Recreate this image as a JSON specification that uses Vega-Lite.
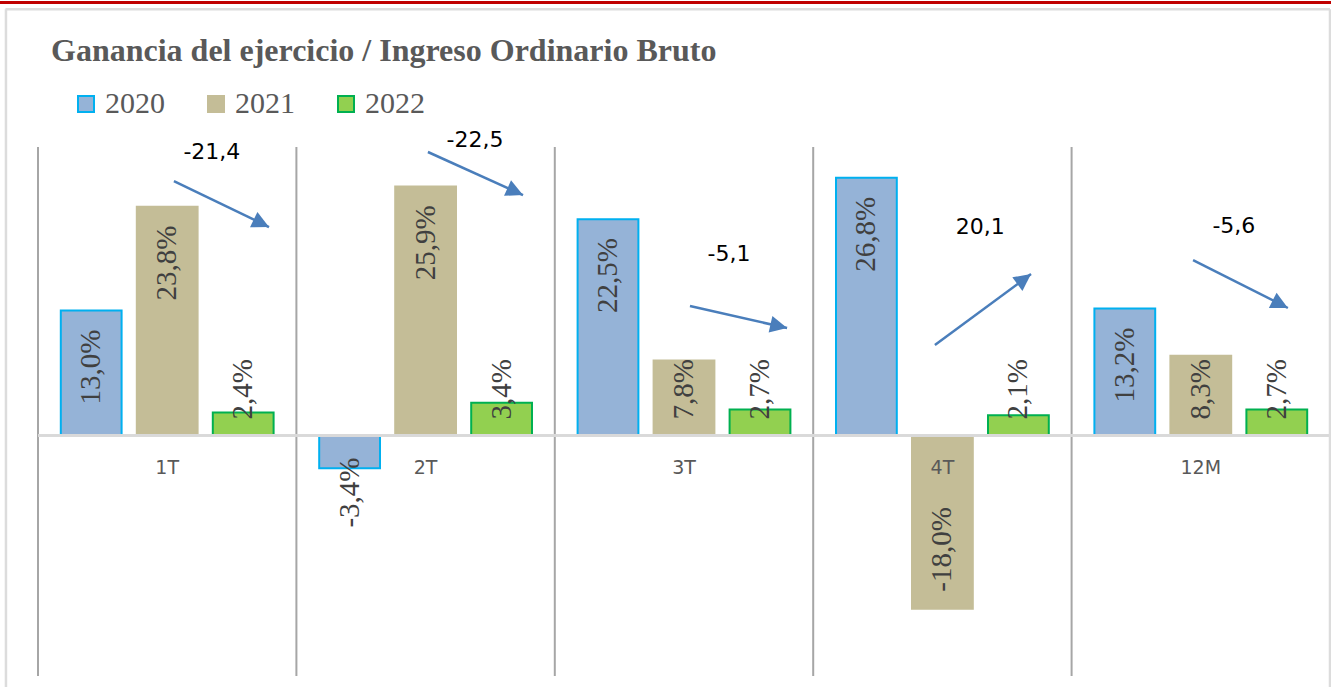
{
  "$schema": "https://vega.github.io/schema/vega-lite/v6.json",
  "width": 1292,
  "height": 529,
  "autosize": {"type": "none"},
  "padding": {"left": 38, "top": 147, "right": 1, "bottom": 11},
  "background": "white",
  "title": {
    "text": "Ganancia del ejercicio / Ingreso Ordinario Bruto",
    "anchor": "start",
    "frame": "group",
    "font": "Liberation Serif",
    "fontSize": 32,
    "fontWeight": "bold",
    "color": "#595959",
    "baseline": "alphabetic",
    "dx": 13,
    "offset": -92
  },
  "config": {"view": {"stroke": null}},
  "datasets": {
    "bars": [
      {"q": "1T", "year": "2020", "v": 13.0, "lab": "13,0%"},
      {"q": "1T", "year": "2021", "v": 23.8, "lab": "23,8%"},
      {"q": "1T", "year": "2022", "v": 2.4, "lab": "2,4%"},
      {"q": "2T", "year": "2020", "v": -3.4, "lab": "-3,4%"},
      {"q": "2T", "year": "2021", "v": 25.9, "lab": "25,9%"},
      {"q": "2T", "year": "2022", "v": 3.4, "lab": "3,4%"},
      {"q": "3T", "year": "2020", "v": 22.5, "lab": "22,5%"},
      {"q": "3T", "year": "2021", "v": 7.8, "lab": "7,8%"},
      {"q": "3T", "year": "2022", "v": 2.7, "lab": "2,7%"},
      {"q": "4T", "year": "2020", "v": 26.8, "lab": "26,8%"},
      {"q": "4T", "year": "2021", "v": -18.0, "lab": "-18,0%"},
      {"q": "4T", "year": "2022", "v": 2.1, "lab": "2,1%"},
      {"q": "12M", "year": "2020", "v": 13.2, "lab": "13,2%"},
      {"q": "12M", "year": "2021", "v": 8.3, "lab": "8,3%"},
      {"q": "12M", "year": "2022", "v": 2.7, "lab": "2,7%"}
    ],
    "chg": [
      {"chg": "-21,4", "x1": 0.526, "y1": 26.46, "x2": 0.894, "y2": 21.68, "lx": 0.673, "ly": 29.48},
      {"chg": "-22,5", "x1": 1.509, "y1": 29.48, "x2": 1.877, "y2": 25.0, "lx": 1.691, "ly": 30.72},
      {"chg": "-5,1", "x1": 2.523, "y1": 13.46, "x2": 2.899, "y2": 11.18, "lx": 2.674, "ly": 18.87},
      {"chg": "20,1", "x1": 3.471, "y1": 9.41, "x2": 3.843, "y2": 16.79, "lx": 3.646, "ly": 21.68},
      {"chg": "-5,6", "x1": 4.470, "y1": 18.25, "x2": 4.837, "y2": 13.26, "lx": 4.628, "ly": 21.78}
    ]
  },
  "layer": [
    {
      "data": {"name": "bars"},
      "encoding": {
        "x": {"field": "q", "type": "nominal", "sort": ["1T", "2T", "3T", "4T", "12M"], "scale": {"domain": ["1T", "2T", "3T", "4T", "12M"], "paddingInner": 0, "paddingOuter": 0}, "axis": null}
      },
      "layer": [
        {
          "transform": [{"filter": "datum.year == '2020'"}],
          "mark": {"type": "rule", "color": "#A6A6A6", "strokeWidth": 2},
          "encoding": {
            "x": {"field": "q", "type": "nominal", "bandPosition": 0, "sort": ["1T", "2T", "3T", "4T", "12M"], "scale": {"domain": ["1T", "2T", "3T", "4T", "12M"], "paddingInner": 0, "paddingOuter": 0}, "axis": null}
          }
        },
        {
          "mark": {"type": "bar", "strokeWidth": 2},
          "encoding": {
            "xOffset": {"field": "year", "type": "nominal", "scale": {"domain": ["2020", "2021", "2022"], "paddingInner": 0.2, "paddingOuter": 0.3}},
            "y": {"field": "v", "type": "quantitative", "scale": {"domain": [-25, 30], "nice": false, "zero": false}, "axis": null},
            "fill": {"field": "year", "type": "nominal", "scale": {"domain": ["2020", "2021", "2022"], "range": ["#95B3D7", "#C4BD97", "#92D050"]},
              "legend": {"title": null, "orient": "none", "legendX": 33, "legendY": -58, "direction": "horizontal", "symbolType": "square", "symbolSize": 256, "symbolStrokeWidth": 2, "labelFont": "Liberation Serif", "labelFontSize": 30, "labelColor": "#595959", "labelOffset": 4, "columnPadding": 36, "padding": 0, "labelLimit": 0}},
            "stroke": {"field": "year", "type": "nominal", "scale": {"domain": ["2020", "2021", "2022"], "range": ["#00B0F0", "#C4BD97", "#00B050"]},
              "legend": {"title": null, "orient": "none", "legendX": 33, "legendY": -58, "direction": "horizontal", "symbolType": "square", "symbolSize": 256, "symbolStrokeWidth": 2, "labelFont": "Liberation Serif", "labelFontSize": 30, "labelColor": "#595959", "labelOffset": 4, "columnPadding": 36, "padding": 0, "labelLimit": 0}}
          }
        },
        {
          "mark": {"type": "rule", "color": "#D9D9D9", "strokeWidth": 2},
          "encoding": {"x": null, "y": {"datum": 0, "type": "quantitative"}}
        },
        {
          "transform": [{"filter": "datum.v >= 10"}],
          "mark": {"type": "text", "angle": 270, "align": "right", "baseline": "middle", "dx": -19, "font": "Liberation Serif", "fontSize": 29, "color": "#404040"},
          "encoding": {
            "xOffset": {"field": "year", "type": "nominal", "scale": {"domain": ["2020", "2021", "2022"], "paddingInner": 0.2, "paddingOuter": 0.3}},
            "y": {"field": "v", "type": "quantitative"},
            "text": {"field": "lab"}
          }
        },
        {
          "transform": [{"filter": "datum.v > 0 && datum.v < 10"}],
          "mark": {"type": "text", "angle": 270, "align": "left", "baseline": "middle", "dx": 16, "font": "Liberation Serif", "fontSize": 29, "color": "#404040"},
          "encoding": {
            "xOffset": {"field": "year", "type": "nominal", "scale": {"domain": ["2020", "2021", "2022"], "paddingInner": 0.2, "paddingOuter": 0.3}},
            "y": {"datum": 0, "type": "quantitative"},
            "text": {"field": "lab"}
          }
        },
        {
          "transform": [{"filter": "datum.v <= -10"}],
          "mark": {"type": "text", "angle": 270, "align": "left", "baseline": "middle", "dx": 17, "font": "Liberation Serif", "fontSize": 29, "color": "#404040"},
          "encoding": {
            "xOffset": {"field": "year", "type": "nominal", "scale": {"domain": ["2020", "2021", "2022"], "paddingInner": 0.2, "paddingOuter": 0.3}},
            "y": {"field": "v", "type": "quantitative"},
            "text": {"field": "lab"}
          }
        },
        {
          "transform": [{"filter": "datum.v < 0 && datum.v > -10"}],
          "mark": {"type": "text", "angle": 270, "align": "right", "baseline": "middle", "dx": -22, "font": "Liberation Serif", "fontSize": 29, "color": "#404040"},
          "encoding": {
            "xOffset": {"field": "year", "type": "nominal", "scale": {"domain": ["2020", "2021", "2022"], "paddingInner": 0.2, "paddingOuter": 0.3}},
            "y": {"datum": 0, "type": "quantitative"},
            "text": {"field": "lab"}
          }
        },
        {
          "transform": [{"filter": "datum.year == '2021'"}],
          "mark": {"type": "text", "align": "center", "baseline": "middle", "dy": 32, "font": "DejaVu Sans", "fontSize": 19, "color": "#595959"},
          "encoding": {
            "y": {"datum": 0, "type": "quantitative"},
            "text": {"field": "q"}
          }
        }
      ]
    },
    {
      "data": {"name": "chg"},
      "layer": [
        {
          "data": {"values": [{}]},
          "mark": {"type": "rule", "color": "#C00000", "strokeWidth": 3},
          "encoding": {
            "x": {"datum": -0.2, "type": "quantitative", "scale": {"domain": [0, 5], "nice": false, "zero": false}, "axis": null},
            "x2": {"datum": 5.1},
            "y": {"datum": 45.02, "type": "quantitative"}
          }
        },
        {
          "data": {"values": [{}]},
          "mark": {"type": "rule", "color": "#DCDCDC", "strokeWidth": 2.5},
          "encoding": {
            "x": {"datum": -0.126, "type": "quantitative", "scale": {"domain": [0, 5], "nice": false, "zero": false}, "axis": null},
            "x2": {"datum": 5.0},
            "y": {"datum": 44.31, "type": "quantitative"}
          }
        },
        {
          "data": {"values": [{}]},
          "mark": {"type": "rule", "color": "#DCDCDC", "strokeWidth": 2.5},
          "encoding": {
            "x": {"datum": -0.124, "type": "quantitative", "scale": {"domain": [0, 5], "nice": false, "zero": false}, "axis": null},
            "y": {"datum": 44.31, "type": "quantitative"},
            "y2": {"datum": -30}
          }
        },
        {
          "data": {"values": [{}]},
          "mark": {"type": "rule", "color": "#DCDCDC", "strokeWidth": 2.5},
          "encoding": {
            "x": {"datum": 5.0, "type": "quantitative", "scale": {"domain": [0, 5], "nice": false, "zero": false}, "axis": null},
            "y": {"datum": 44.31, "type": "quantitative"},
            "y2": {"datum": -30}
          }
        },
        {
          "mark": {"type": "rule", "color": "#4A7EBB", "strokeWidth": 2.5},
          "encoding": {
            "x": {"field": "x1", "type": "quantitative", "scale": {"domain": [0, 5], "nice": false, "zero": false}, "axis": null},
            "x2": {"field": "x2"},
            "y": {"field": "y1", "type": "quantitative"},
            "y2": {"field": "y2"}
          }
        },
        {
          "transform": [{"calculate": "atan2((datum.y1 - datum.y2) * 9.618, (datum.x2 - datum.x1) * 258.4) * 180 / PI", "as": "ang"}],
          "mark": {"type": "point", "shape": "M0,0L-1,-0.5L-1,0.5Z", "size": 1156, "filled": true, "color": "#4A7EBB", "opacity": 1, "strokeWidth": 0},
          "encoding": {
            "x": {"field": "x2", "type": "quantitative", "scale": {"domain": [0, 5], "nice": false, "zero": false}, "axis": null},
            "y": {"field": "y2", "type": "quantitative"},
            "angle": {"field": "ang", "type": "quantitative", "scale": null}
          }
        },
        {
          "mark": {"type": "text", "align": "center", "baseline": "middle", "font": "DejaVu Sans", "fontSize": 22, "color": "#000000"},
          "encoding": {
            "x": {"field": "lx", "type": "quantitative", "scale": {"domain": [0, 5], "nice": false, "zero": false}, "axis": null},
            "y": {"field": "ly", "type": "quantitative"},
            "text": {"field": "chg"}
          }
        }
      ]
    }
  ],
  "resolve": {"scale": {"x": "independent"}}
}
